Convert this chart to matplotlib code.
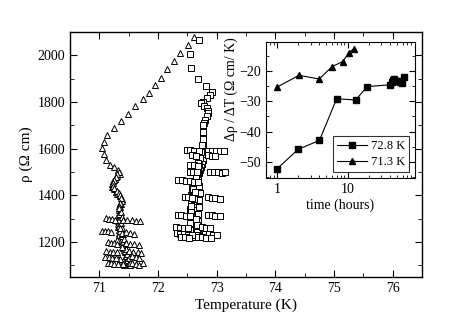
import numpy as np
import matplotlib.pyplot as plt
from matplotlib.ticker import MultipleLocator, LogLocator, NullFormatter

plt.rcParams['font.family'] = ['Liberation Serif', 'DejaVu Serif']

# --- 71.3 K run (open triangles) ---
tri_arc_T = [72.62, 72.51, 72.38, 72.28, 72.16, 72.06, 71.95, 71.84, 71.74, 71.61, 71.49,
             71.37, 71.26, 71.14, 71.08, 71.05, 71.08, 71.12, 71.18, 71.25, 71.32, 71.36]
tri_arc_rho = [2078, 2045, 2009, 1976, 1941, 1905, 1872, 1837, 1812, 1783, 1748,
               1720, 1689, 1658, 1629, 1603, 1576, 1553, 1532, 1522, 1508, 1493]
tri_band_T = [71.33, 71.30, 71.27, 71.24, 71.22, 71.22, 71.25, 71.28, 71.31, 71.35, 71.38,
              71.38, 71.37, 71.35, 71.34, 71.33, 71.33, 71.32, 71.32, 71.32, 71.32, 71.33,
              71.33, 71.34, 71.35, 71.37, 71.39, 71.40, 71.41, 71.43, 71.44, 71.45, 71.46,
              71.47, 71.48, 71.49]
tri_band_rho = [1500, 1485, 1472, 1460, 1448, 1436, 1425, 1415, 1405, 1395, 1385,
                1375, 1362, 1350, 1338, 1325, 1312, 1300, 1288, 1276, 1264, 1252,
                1240, 1228, 1218, 1206, 1195, 1185, 1175, 1165, 1155, 1145, 1135,
                1125, 1115, 1105]
tri_band2_T = [71.31, 71.28, 71.25, 71.23, 71.23, 71.26, 71.30, 71.33, 71.36, 71.37, 71.36,
               71.34, 71.33, 71.33, 71.33, 71.34, 71.36, 71.38, 71.40, 71.42, 71.44, 71.46,
               71.48, 71.50, 71.52]
tri_band2_rho = [1492, 1478, 1466, 1454, 1442, 1430, 1420, 1410, 1400, 1390, 1368,
                 1356, 1344, 1318, 1294, 1270, 1246, 1224, 1200, 1180, 1160, 1140,
                 1122, 1110, 1102]
tri_band3_T = [71.37, 71.38, 71.37, 71.38, 71.40, 71.42, 71.44, 71.46, 71.48, 71.50, 71.53,
               71.36, 71.38, 71.41, 71.30, 71.29, 71.35, 71.42]
tri_band3_rho = [1330, 1306, 1282, 1258, 1234, 1212, 1190, 1170, 1150, 1130, 1112,
                 1258, 1180, 1118, 1210, 1150, 1128, 1100]
tri_rows_T = [71.12, 71.17, 71.22, 71.27, 71.40, 71.47, 71.55, 71.62, 71.70,
              71.05, 71.10, 71.15, 71.20, 71.38, 71.45, 71.52, 71.60,
              71.15, 71.20, 71.25, 71.30, 71.45, 71.52, 71.60, 71.67,
              71.12, 71.18, 71.24, 71.30, 71.50, 71.58, 71.66, 71.72,
              71.10, 71.16, 71.22, 71.28, 71.55, 71.62, 71.68,
              71.15, 71.20, 71.26, 71.32, 71.40, 71.55, 71.62, 71.68, 71.74]
tri_rows_rho = [1302, 1300, 1298, 1296, 1294, 1296, 1295, 1292, 1290,
                1248, 1246, 1245, 1243, 1240, 1242, 1238, 1236,
                1198, 1196, 1195, 1193, 1194, 1192, 1190, 1188,
                1160, 1158, 1157, 1155, 1160, 1158, 1156, 1152,
                1136, 1134, 1133, 1131, 1138, 1135, 1132,
                1110, 1108, 1107, 1106, 1104, 1108, 1105, 1103, 1110]

# --- 72.8 K run (open squares) ---
sq_top_T = [72.70, 72.55, 72.56, 72.68, 72.82, 72.92, 72.89, 72.83, 72.76]
sq_top_rho = [2067, 2005, 1945, 1898, 1869, 1844, 1830, 1816, 1801]
sq_band_T = [72.74, 72.78, 72.83, 72.85, 72.85, 72.83, 72.80, 72.78, 72.77, 72.77, 72.77,
             72.77, 72.77, 72.77, 72.77, 72.77, 72.77, 72.77, 72.76, 72.75, 72.74, 72.72,
             72.70, 72.68, 72.67, 72.66, 72.66, 72.65, 72.64, 72.63, 72.63, 72.63, 72.63,
             72.63, 72.63, 72.62, 72.61, 72.61, 72.60, 72.60, 72.60, 72.60]
sq_band_rho = [1795, 1785, 1773, 1760, 1751, 1740, 1723, 1710, 1694, 1680, 1665,
               1650, 1636, 1622, 1608, 1594, 1580, 1565, 1551, 1536, 1522, 1508,
               1494, 1479, 1465, 1450, 1436, 1422, 1407, 1393, 1378, 1364, 1350,
               1335, 1321, 1307, 1292, 1278, 1264, 1250, 1235, 1221]
sq_band2_T = [72.76, 72.76, 72.76, 72.75, 72.74, 72.72, 72.70, 72.69, 72.68, 72.66, 72.62,
              72.58, 72.56, 72.56, 72.55, 72.55, 72.54, 72.54, 72.70, 72.71, 72.70, 72.70,
              72.69, 72.68, 72.68, 72.68]
sq_band2_rho = [1700, 1672, 1643, 1615, 1587, 1558, 1530, 1500, 1472, 1490, 1460,
                1430, 1400, 1370, 1340, 1310, 1280, 1250, 1440, 1410, 1380, 1350,
                1320, 1290, 1260, 1230]
sq_band3_T = [72.68, 72.66, 72.64, 72.62, 72.60, 72.58, 72.57, 72.56, 72.65, 72.66, 72.66,
              72.64, 72.63, 72.62]
sq_band3_rho = [1540, 1512, 1484, 1456, 1426, 1398, 1356, 1328, 1300, 1272, 1244,
                1228, 1415, 1385]
sq_rows_T = [72.49, 72.55, 72.62, 72.70, 72.85, 72.92, 72.99, 73.06, 73.13,
             72.58, 72.65, 72.85, 72.92, 72.98,
             72.55, 72.62, 72.69,
             72.54, 72.60, 72.67, 72.88, 72.95, 73.02, 73.09, 73.15,
             72.34, 72.41, 72.48, 72.55, 72.62, 72.69,
             72.46, 72.52, 72.58, 72.85, 72.92, 72.98, 73.05,
             72.34, 72.40, 72.47, 72.54, 72.85, 72.92, 72.98, 73.05,
             72.30, 72.37, 72.44, 72.51, 72.75, 72.82, 72.89,
             72.32, 72.38, 72.45, 72.52, 72.58, 72.80, 72.87, 72.94, 73.01,
             72.40, 72.46, 72.53, 72.68, 72.75, 72.82, 72.90]
sq_rows_rho = [1596, 1594, 1592, 1590, 1588, 1590, 1592, 1590, 1588,
               1572, 1570, 1572, 1570, 1568,
               1530, 1528, 1526,
               1502, 1500, 1498, 1502, 1500, 1498, 1496, 1498,
               1466, 1464, 1462, 1460, 1458, 1456,
               1394, 1392, 1390, 1392, 1390, 1388, 1386,
               1316, 1314, 1312, 1310, 1316, 1314, 1312, 1310,
               1264, 1262, 1260, 1258, 1264, 1262, 1260,
               1238, 1236, 1234, 1232, 1230, 1236, 1234, 1232, 1230,
               1222, 1220, 1218, 1222, 1220, 1218, 1216]

# --- inset: slope vs time ---
t_sq = [1, 2, 4, 7, 13, 19, 40, 42, 44, 46, 48, 51, 55, 58, 63]
d_sq = [-52.3, -45.8, -42.9, -29.2, -29.6, -25.2, -24.6, -23.8, -23.0, -22.7,
        -23.4, -23.2, -23.8, -24.0, -22.2]
t_tri = [1, 2.05, 3.97, 6.06, 8.5, 10.5, 12.4]
d_tri = [-25.4, -21.5, -22.7, -18.6, -17.0, -14.0, -12.7]

fig = plt.figure(figsize=(4.69, 3.27), dpi=100)
ax = fig.add_axes([0.149, 0.153, 0.751, 0.749])

tri_T = tri_arc_T + tri_band_T + tri_band2_T + tri_band3_T + tri_rows_T
tri_rho = tri_arc_rho + tri_band_rho + tri_band2_rho + tri_band3_rho + tri_rows_rho
sq_T = sq_top_T + sq_band_T + sq_band2_T + sq_band3_T + sq_rows_T
sq_rho = sq_top_rho + sq_band_rho + sq_band2_rho + sq_band3_rho + sq_rows_rho

ax.plot(tri_T, tri_rho, ls='none', marker='^', ms=5, mfc='white', mec='black', mew=0.7)
ax.plot(sq_T, sq_rho, ls='none', marker='s', ms=4.5, mfc='white', mec='black', mew=0.7)

ax.set_xlim(70.5, 76.5)
ax.set_ylim(1050, 2100)
ax.xaxis.set_major_locator(MultipleLocator(1))
ax.xaxis.set_minor_locator(MultipleLocator(0.5))
ax.yaxis.set_major_locator(MultipleLocator(200))
ax.yaxis.set_minor_locator(MultipleLocator(100))
ax.tick_params(which='both', direction='in', top=True, right=True, labelsize=10)
ax.tick_params(which='major', length=5)
ax.tick_params(which='minor', length=3)
ax.set_xlabel('Temperature (K)', fontsize=11, labelpad=3)
ax.set_ylabel('ρ (Ω cm)', fontsize=11, labelpad=3)
for s in ax.spines.values():
    s.set_linewidth(1.0)

# inset
ins = fig.add_axes([0.567, 0.456, 0.318, 0.416])
ins.plot(t_sq, d_sq, color='black', lw=0.8, marker='s', ms=4.5, label='72.8 K')
ins.plot(t_tri, d_tri, color='black', lw=0.8, marker='^', ms=5, label='71.3 K')
ins.set_xscale('log')
ins.set_xlim(0.7, 90)
ins.set_ylim(-55.2, -10.5)
ins.yaxis.set_major_locator(MultipleLocator(10))
ins.yaxis.set_minor_locator(MultipleLocator(5))
ins.xaxis.set_minor_locator(LogLocator(base=10, subs=np.arange(2, 10)))
ins.xaxis.set_minor_formatter(NullFormatter())
ins.set_xticks([1, 10])
ins.set_xticklabels(['1', '10'])
ins.tick_params(which='both', direction='in', top=True, right=True, labelsize=10)
ins.tick_params(which='major', length=4)
ins.tick_params(which='minor', length=2)
ins.set_xlabel('time (hours)', fontsize=10, labelpad=2)
ins.set_ylabel('Δρ / ΔT (Ω cm/ K)', fontsize=10)
ins.yaxis.set_label_coords(-0.19, 0.65)
ins.legend(loc='lower right', fontsize=9, handlelength=2.4, frameon=True, fancybox=False,
           edgecolor='black', borderpad=0.3, labelspacing=0.3, handletextpad=0.3,
           borderaxespad=0.5).get_frame().set_linewidth(0.8)

fig.savefig('out.png', dpi=100)
